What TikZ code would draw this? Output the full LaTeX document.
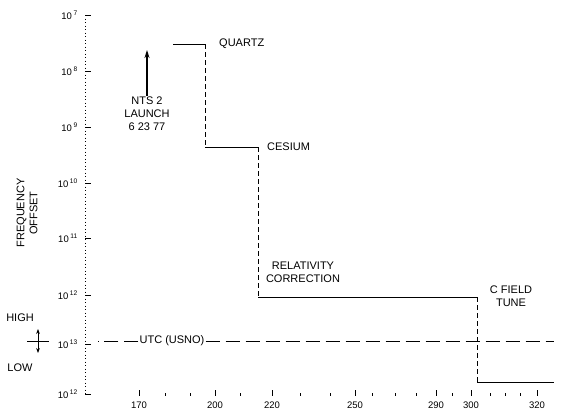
\documentclass[tikz,border=0pt]{standalone}
\usepackage{fontspec}
\setmainfont{Liberation Sans}
\usetikzlibrary{positioning, arrows.meta}

\begin{document}
\begin{tikzpicture}[
    x=1pt,
    y=-1pt,
    lbl/.style={font=\fontsize{11}{13}\selectfont, align=center, inner sep=1pt},
    ticklbl/.style={font=\fontsize{9.5}{11}\selectfont, inner sep=1pt},
    level/.style={line width=0.9pt},
    jump/.style={line width=0.8pt, dash pattern=on 5pt off 3pt},
    axisline/.style={line width=0.8pt, dash pattern=on 1pt off 2.5pt}
]
    \useasboundingbox (0,0) rectangle (564,416);

    % Axes
    \coordinate (ytop) at (85,15);
    \coordinate (ybot) at (85,395);
    \draw[axisline] (ytop) -- (ybot);
    \foreach \yy/\ee in {15/7, 71/8, 127/9, 183/10, 238/11, 295/12, 344/13, 394/12} {
        \node[ticklbl, anchor=east] (ylab\yy) at (79,\yy) {10\,\textsuperscript{\ee}};
        \draw[line width=0.8pt] (85,\yy) -- (91,\yy);
    }
    \foreach \xx/\tt in {139/170, 215/200, 272/220, 355/250, 436/290, 471/300, 537/320} {
        \node[ticklbl, anchor=north] (xlab\tt) at (\xx,401) {\tt};
        \draw[line width=0.7pt] (\xx,390) -- (\xx,396);
    }
    \foreach \xx in {165, 190, 240, 300, 330, 372, 395, 416, 452, 490, 505, 520} {
        \draw[line width=0.7pt] (\xx,393) -- (\xx,396);
    }

    % Axis title and high/low sign
    \node[lbl, rotate=90] (ftitle) at (27,213) {FREQUENCY\\OFFSET};
    \node[lbl] (high) at (20,318) {HIGH};
    \node[lbl] (low) at (20,368) {LOW};
    \coordinate (hl) at (38,341);
    \draw[line width=0.8pt] ([xshift=-11pt]hl) -- ([xshift=11pt]hl);
    \draw[{Stealth[length=5pt]}-{Stealth[length=5pt]}, line width=0.8pt] ([yshift=-12pt]hl) -- ([yshift=12pt]hl);

    % Steps
    \coordinate (q1) at (173,44);
    \coordinate (q2) at (205,44);
    \coordinate (c1) at (205,147);
    \coordinate (c2) at (258,147);
    \coordinate (r1) at (258,297);
    \coordinate (r2) at (477,297);
    \coordinate (t1) at (477,382);
    \coordinate (t2) at (554,382);
    \draw[level] (q1) -- (q2);
    \draw[jump] (q2) -- (c1);
    \draw[level] (c1) -- (c2);
    \draw[jump] (c2) -- (r1);
    \draw[level] (r1) -- (r2);
    \draw[jump] (r2) -- (t1);
    \draw[level] (t1) -- (t2);

    % Labels
    \node[lbl, anchor=west] (quartz) at (218,44) {QUARTZ};
    \node[lbl, anchor=west] (cesium) at (266,147) {CESIUM};
    \node[lbl] (relcorr) at (303,272) {RELATIVITY\\CORRECTION};
    \node[lbl] (cfield) at (511,296) {C FIELD\\TUNE};
    \node[lbl] (launch) at (147,114) {NTS 2\\LAUNCH\\6 23 77};
    \coordinate (launchtip) at (147,50);
    \draw[-{Stealth[length=8pt, width=5pt]}, line width=1.2pt] (launch.north) -- (launchtip);

    % Reference
    \node[lbl] (utc) at (172,341) {UTC (USNO)};
    \coordinate (utcstart) at (98,341);
    \coordinate (utcend) at (554,341);
    \draw[line width=0.8pt, dash pattern=on 14pt off 6pt] (utc.east) -- (utcend);
    \draw[line width=0.8pt, dash pattern=on 14pt off 6pt] (utc.west) -- (utcstart);
\end{tikzpicture}
\end{document}
